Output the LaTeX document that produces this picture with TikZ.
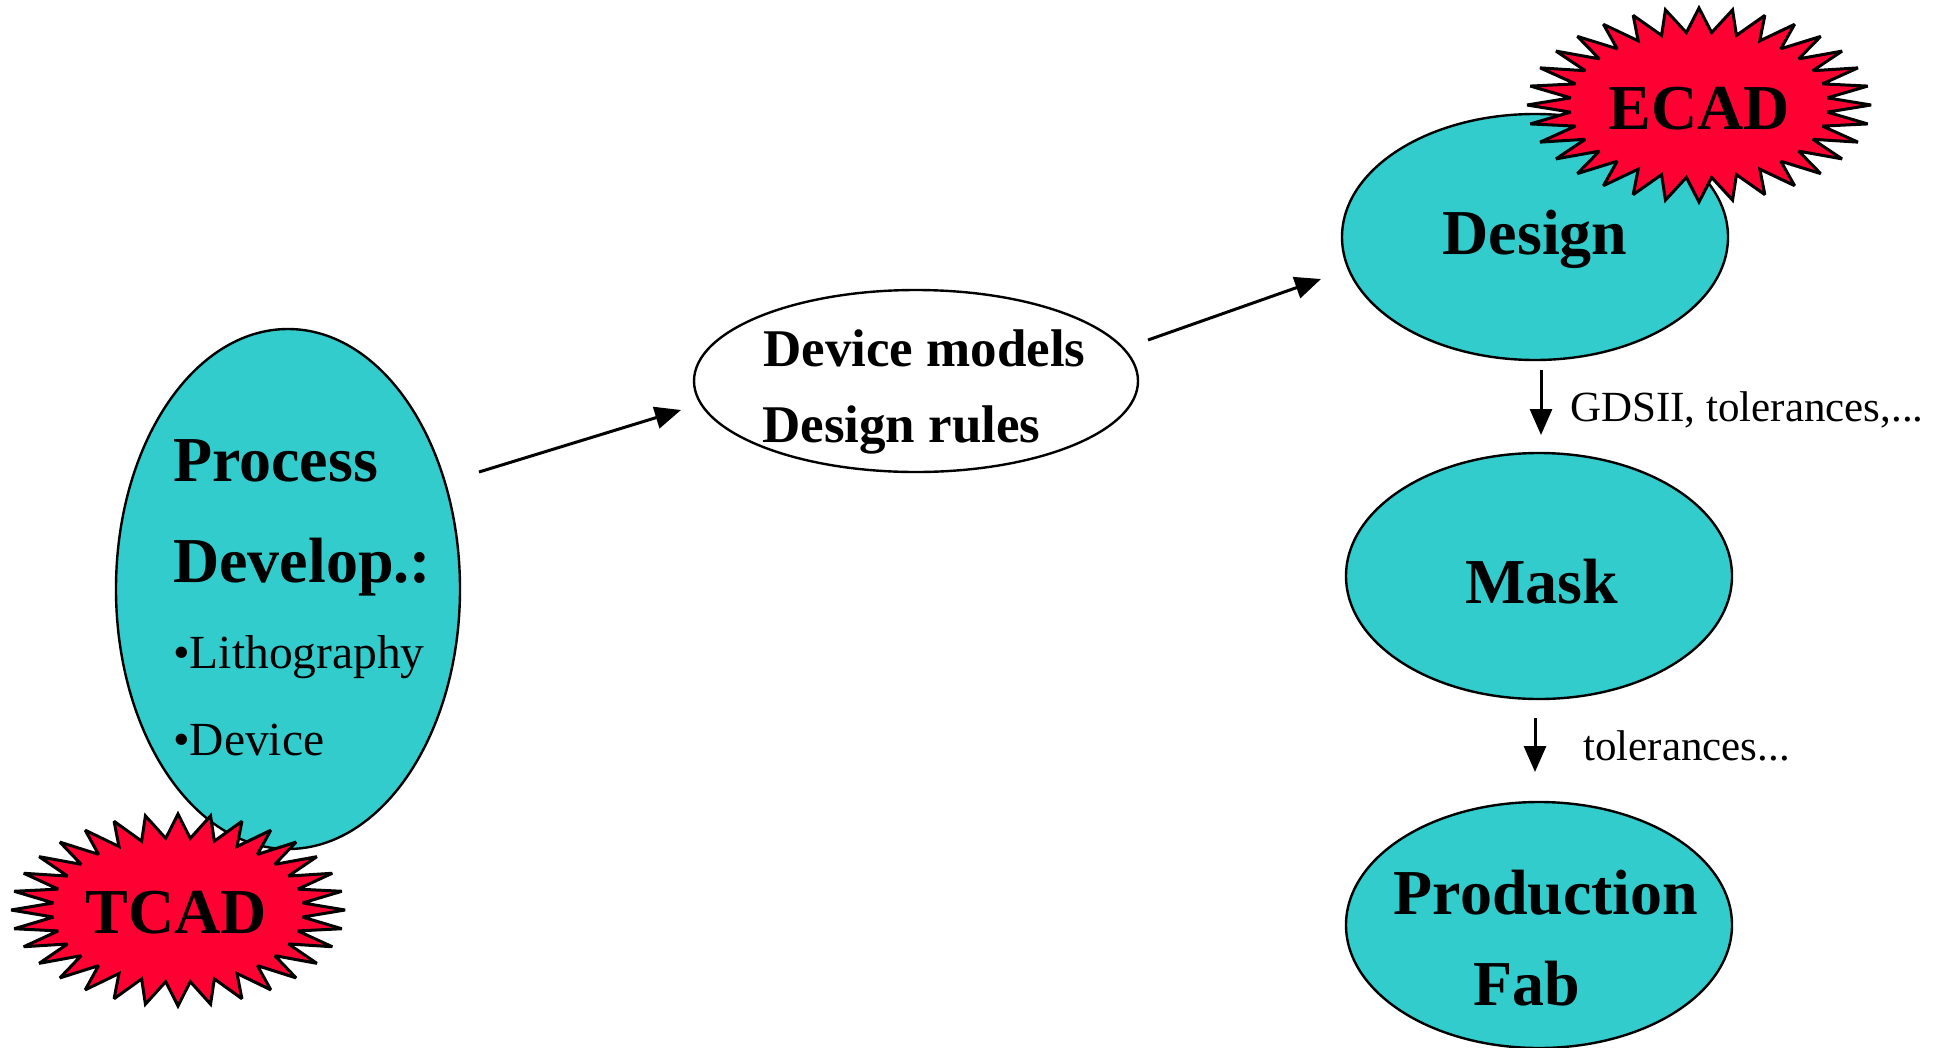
\documentclass[tikz,border=0pt]{standalone}
\usepackage{fontspec}
\setmainfont{Liberation Serif}
\usetikzlibrary{shapes.geometric,arrows.meta}

\definecolor{tealfill}{HTML}{33CCCC}
\definecolor{burstred}{HTML}{FF0033}

\tikzset{
  stage/.style={ellipse, draw=black, line width=2.4pt, fill=tealfill, inner sep=0pt},
  plainstage/.style={ellipse, draw=black, line width=2.4pt, fill=white, inner sep=0pt},
  bigbold/.style={inner sep=0pt, font=\fontsize{64}{70}\selectfont\bfseries},
  midbold/.style={inner sep=0pt, font=\fontsize{53}{60}\selectfont\bfseries},
  bullettext/.style={inner sep=0pt, font=\fontsize{47.5}{52}\selectfont},
  note/.style={inner sep=0pt, font=\fontsize{43}{50}\selectfont},
  conn/.style={line width=3pt, -{Triangle[length=26pt,width=22pt]}},
  burst/.style={draw=black, line width=3pt, fill=burstred, line join=miter, miter limit=2.5},
}

% 32-point star: centre (#1,#2), radii #3 and #4
\newcommand{\starthirtytwo}[4]{%
  \draw[burst] plot[samples at={0,...,64}, variable=\k]
    ({#1 + (1-0.25*mod(\k,2))*#3*cos(90+\k*5.625)},
     {#2 - (1-0.25*mod(\k,2))*#4*sin(90+\k*5.625)}) -- cycle;%
}

\begin{document}
\begin{tikzpicture}[x=1pt,y=-1pt]
\useasboundingbox (0,0) rectangle (1941,1047);

% process development
\node[stage, minimum width=344pt, minimum height=520pt] (proc) at (288,589) {};
\node[bigbold, anchor=base west] (proct1) at (173,481) {Process};
\node[bigbold, anchor=base west] (proct2) at (173,582) {Develop.:};
\node[bullettext, anchor=base west] (proct3) at (173,668) {\textbullet Lithography};
\node[bullettext, anchor=base west] (proct4) at (173,755) {\textbullet Device};

\starthirtytwo{178}{910}{167}{96}
\node[bigbold, anchor=base] (tcad) at (176,933) {TCAD};

% device models and design rules
\node[plainstage, minimum width=444pt, minimum height=182pt] (dev) at (916,381) {};
\node[midbold, anchor=base west] (devt1) at (763,366) {Device models};
\node[midbold, anchor=base west] (devt2) at (762,442) {Design rules};

% design
\node[stage, minimum width=386pt, minimum height=246pt] (design) at (1535,237) {};
\node[bigbold, anchor=base] (designt) at (1535,254) {Design};
\starthirtytwo{1699}{105}{172}{97}
\node[bigbold, anchor=base] (ecad) at (1699,129) {ECAD};

% mask
\node[stage, minimum width=386pt, minimum height=246pt] (mask) at (1539,576) {};
\node[bigbold, anchor=base] (maskt) at (1542,603) {Mask};

% production
\node[stage, minimum width=386pt, minimum height=246pt] (prod) at (1539,925) {};
\node[bigbold, anchor=base] (prodt1) at (1546,914) {Production};
\node[bigbold, anchor=base] (prodt2) at (1527,1005) {Fab};

% connectors
\coordinate (pdA) at (479,472);
\coordinate (pdB) at (681,410);
\draw[conn] (pdA) -- (pdB);

\coordinate (ddA) at (1148,340);
\coordinate (ddB) at (1321,279);
\draw[conn] (ddA) -- (ddB);

\coordinate (dmA) at (1541,370);
\coordinate (dmB) at (1541,435);
\draw[conn] (dmA) -- (dmB);
\node[note, anchor=base west] (gds) at (1570,421) {GDSII, tolerances,...};

\coordinate (mpA) at (1535,718);
\coordinate (mpB) at (1535,772);
\draw[conn] (mpA) -- (mpB);
\node[note, anchor=base west] (tol) at (1583,760) {tolerances...};
\end{tikzpicture}
\end{document}
